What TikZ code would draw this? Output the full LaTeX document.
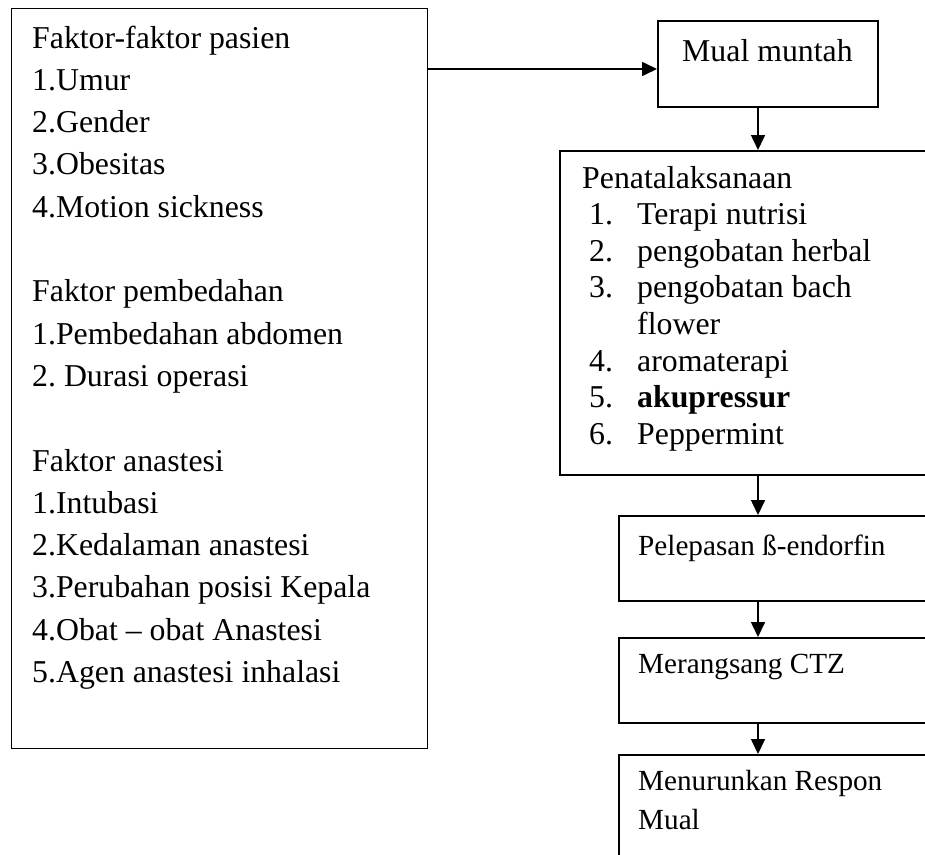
\documentclass[tikz,border=0pt]{standalone}
\usepackage{fontspec}
\setmainfont{Liberation Serif}
\usetikzlibrary{arrows.meta}
\frenchspacing
\begin{document}
\begin{tikzpicture}[x=1pt,y=-1pt,
  box/.style={draw, line width=1.6pt, rectangle, inner sep=0pt, anchor=north west},
  txt/.style={anchor=base west, inner sep=0pt, font=\fontsize{31.8}{42.3}\selectfont},
  stxt/.style={anchor=base west, inner sep=0pt, font=\fontsize{29.2}{39}\selectfont},
  arr/.style={line width=1.6pt, -{Triangle[length=15pt,width=14pt]}}]
\useasboundingbox (0,0) rectangle (925,854);
\clip (0,0) rectangle (925,854);
% boxes
\node[box, line width=1.4pt, minimum width=416.5pt, minimum height=740pt] (left) at (10.5,8) {};
\node[box, minimum width=220pt, minimum height=86pt] (mual) at (657,20) {};
\node[box, minimum width=401pt, minimum height=324pt] (pen) at (559,150) {};
\node[box, minimum width=342pt, minimum height=85pt] (pel) at (618,515) {};
\node[box, minimum width=342pt, minimum height=85pt] (mer) at (618,637) {};
\node[box, minimum width=342pt, minimum height=146pt] (men) at (618,754) {};
% left text
\foreach \t [count=\i] in {Faktor-faktor pasien, 1.Umur, 2.Gender, 3.Obesitas, 4.Motion sickness, {},
  Faktor pembedahan, 1.Pembedahan abdomen, 2. Durasi operasi, {},
  Faktor anastesi, 1.Intubasi, 2.Kedalaman anastesi, 3.Perubahan posisi Kepala,
  4.Obat – obat Anastesi, 5.Agen anastesi inhalasi}
  \node[txt] (l\i) at (32,{48+42.3*(\i-1)}) {\frenchspacing\t};
% mual
\node[txt] (tmual) at (682,61) {Mual muntah};
% penatalaksanaan
\node[txt] (tpen) at (582,188) {Penatalaksanaan};
\foreach \n/\t [count=\i] in {1./Terapi nutrisi, 2./pengobatan herbal, 3./pengobatan bach, /flower,
  4./aromaterapi, 5./\textbf{akupressur}, 6./Peppermint} {
  \node[txt] (pn\i) at (589,{188+36.6*\i}) {\n};
  \node[txt] (pt\i) at (637,{188+36.6*\i}) {\t};
}
% lower boxes text
\node[stxt] (tpel) at (638,555) {Pelepasan ß-endorfin};
\node[stxt] (tmer) at (638,673) {Merangsang CTZ};
\node[stxt] (tmen1) at (638,790) {Menurunkan Respon};
\node[stxt] (tmen2) at (638,829) {Mual};
% connectors
\coordinate (hy) at (0,69);
\coordinate (vx) at (758,0);
\draw[arr] (left.east |- hy) -- (mual.west |- hy);
\draw[arr] (mual.south -| vx) -- (pen.north -| vx);
\draw[arr] (pen.south -| vx) -- (pel.north -| vx);
\draw[arr] (pel.south -| vx) -- (mer.north -| vx);
\draw[arr] (mer.south -| vx) -- (men.north -| vx);
\end{tikzpicture}
\end{document}
